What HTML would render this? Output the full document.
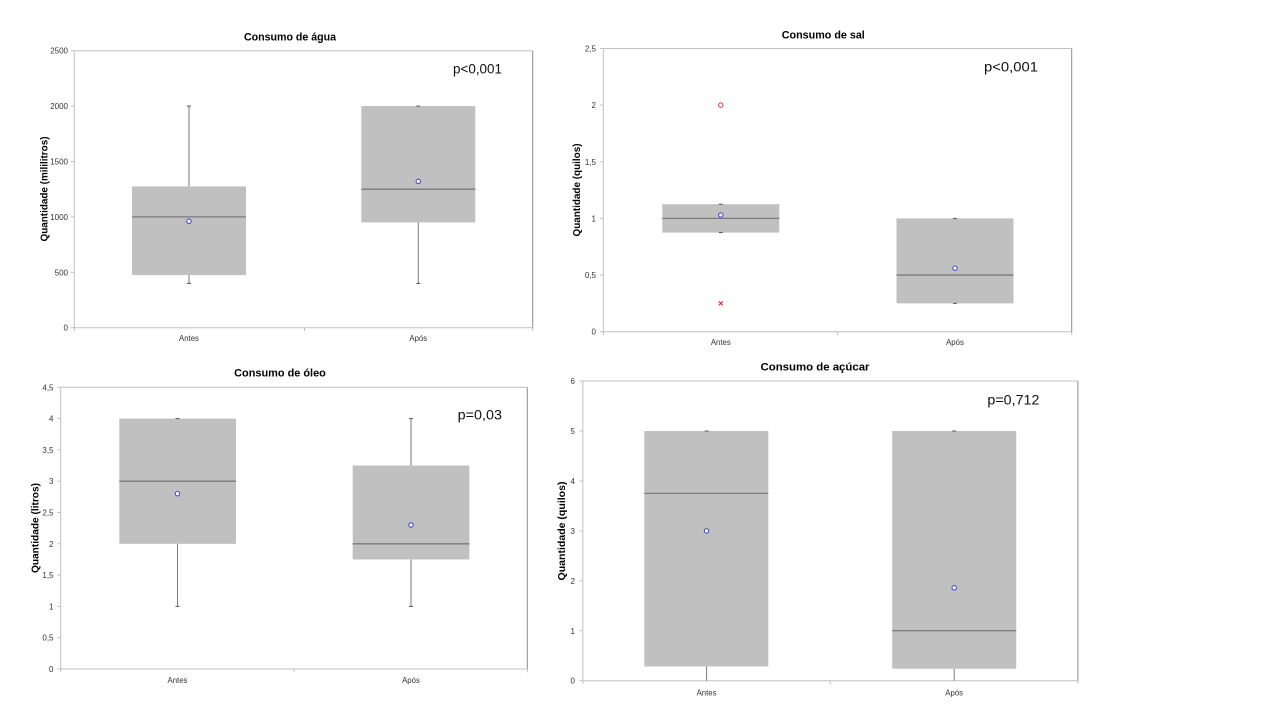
<!DOCTYPE html>
<html>
<head>
<meta charset="utf-8">
<style>
  html, body { margin: 0; padding: 0; background: #ffffff; }
  svg { display: block; }
  text { font-family: "Liberation Sans", "DejaVu Sans", sans-serif; }
  .tick { font-size: 8px; fill: #333333; text-anchor: end; }
  .xl { font-size: 7.8px; fill: #333333; text-anchor: middle; }
  .title { font-size: 10.6px; font-weight: bold; fill: #000000; text-anchor: middle; }
  .ylab { font-size: 10px; font-weight: bold; fill: #000000; text-anchor: middle; }
  .pv { font-size: 13.5px; fill: #111111; }
  .ax { stroke: #c0c0c0; stroke-width: 1; fill: none; }
  .rb { stroke: #8c8c8c; stroke-width: 1; fill: none; }
  .box { fill: #c0c0c0; stroke: none; }
  .med { stroke: #7a7a7a; stroke-width: 1.3; }
  .wh { stroke: #7a7a7a; stroke-width: 1; }
  .cap { stroke: #555555; stroke-width: 1; }
  .mean { fill: #ffffff; stroke: #4a4ad8; stroke-width: 1.1; }
</style>
</head>
<body>
<svg width="1280" height="720" viewBox="0 0 1280 720" xmlns="http://www.w3.org/2000/svg">
  <rect x="0" y="0" width="1280" height="720" fill="#ffffff"/>

  <!-- ================= Chart 1: Consumo de água ================= -->
  <text class="title" x="290" y="40.5" textLength="92" lengthAdjust="spacingAndGlyphs">Consumo de água</text>
  <line class="ax" x1="74.3" y1="50.7" x2="532.7" y2="50.7"/>
  <line class="rb" x1="532.7" y1="50.7" x2="532.7" y2="327.7"/>
  <line class="ax" x1="74.3" y1="50.7" x2="74.3" y2="327.7"/>
  <line class="ax" x1="74.3" y1="327.7" x2="532.7" y2="327.7"/>
  <!-- y ticks -->
  <g class="ax">
    <line x1="71" y1="50.7" x2="74.3" y2="50.7"/>
    <line x1="71" y1="106.1" x2="74.3" y2="106.1"/>
    <line x1="71" y1="161.5" x2="74.3" y2="161.5"/>
    <line x1="71" y1="216.9" x2="74.3" y2="216.9"/>
    <line x1="71" y1="272.3" x2="74.3" y2="272.3"/>
    <line x1="71" y1="327.7" x2="74.3" y2="327.7"/>
    <line x1="304.5" y1="327.7" x2="304.5" y2="331"/>
    <line x1="74.3" y1="327.7" x2="74.3" y2="331"/>
    <line x1="532.7" y1="327.7" x2="532.7" y2="331"/>
  </g>
  <text class="tick" x="68" y="53.7">2500</text>
  <text class="tick" x="68" y="109.1">2000</text>
  <text class="tick" x="68" y="164.5">1500</text>
  <text class="tick" x="68" y="219.9">1000</text>
  <text class="tick" x="68" y="275.3">500</text>
  <text class="tick" x="68" y="330.7">0</text>
  <text class="ylab" transform="translate(47.7,189) rotate(-90)" x="0" y="0" textLength="105" lengthAdjust="spacingAndGlyphs">Quantidade (mililitros)</text>
  <!-- Antes -->
  <line class="wh" x1="189" y1="106.1" x2="189" y2="186.4"/>
  <line class="wh" x1="189" y1="275.1" x2="189" y2="283.4"/>
  <line class="cap" x1="187" y1="106.1" x2="191" y2="106.1"/>
  <line class="cap" x1="187" y1="283.4" x2="191" y2="283.4"/>
  <rect class="box" x="132" y="186.4" width="114" height="88.7"/>
  <line class="med" x1="132" y1="216.9" x2="246" y2="216.9"/>
  <circle class="mean" cx="189" cy="221.3" r="2.2"/>
  <!-- Após -->
  <line class="wh" x1="418.3" y1="222.4" x2="418.3" y2="283.4"/>
  <line class="cap" x1="416.3" y1="283.4" x2="420.3" y2="283.4"/>
  <rect class="box" x="361.3" y="106.1" width="114" height="116.3"/>
  <line class="cap" x1="416.3" y1="106.1" x2="420.3" y2="106.1"/>
  <line class="med" x1="361.3" y1="189.2" x2="475.3" y2="189.2"/>
  <circle class="mean" cx="418.3" cy="181.4" r="2.2"/>
  <text class="xl" x="189" y="341">Antes</text>
  <text class="xl" x="418.3" y="341">Após</text>
  <text class="pv" x="453" y="73.3" textLength="49" lengthAdjust="spacingAndGlyphs">p&lt;0,001</text>

  <!-- ================= Chart 2: Consumo de sal ================= -->
  <text class="title" x="823.3" y="38.5" textLength="83" lengthAdjust="spacingAndGlyphs">Consumo de sal</text>
  <line class="ax" x1="603.3" y1="48.5" x2="1071.7" y2="48.5"/>
  <line class="rb" x1="1071.7" y1="48.5" x2="1071.7" y2="331.7"/>
  <line class="ax" x1="603.3" y1="48.5" x2="603.3" y2="331.7"/>
  <line class="ax" x1="603.3" y1="331.7" x2="1071.7" y2="331.7"/>
  <g class="ax">
    <line x1="600" y1="48.45" x2="603.3" y2="48.45"/>
    <line x1="600" y1="105.1" x2="603.3" y2="105.1"/>
    <line x1="600" y1="161.75" x2="603.3" y2="161.75"/>
    <line x1="600" y1="218.4" x2="603.3" y2="218.4"/>
    <line x1="600" y1="275.05" x2="603.3" y2="275.05"/>
    <line x1="600" y1="331.7" x2="603.3" y2="331.7"/>
    <line x1="837.5" y1="331.7" x2="837.5" y2="335"/>
    <line x1="603.3" y1="331.7" x2="603.3" y2="335"/>
    <line x1="1071.7" y1="331.7" x2="1071.7" y2="335"/>
  </g>
  <text class="tick" x="596" y="51.45">2,5</text>
  <text class="tick" x="596" y="108.1">2</text>
  <text class="tick" x="596" y="164.75">1,5</text>
  <text class="tick" x="596" y="221.4">1</text>
  <text class="tick" x="596" y="278.05">0,5</text>
  <text class="tick" x="596" y="334.7">0</text>
  <text class="ylab" transform="translate(580,190) rotate(-90)" x="0" y="0" textLength="93" lengthAdjust="spacingAndGlyphs">Quantidade (quilos)</text>
  <!-- Antes -->
  <rect class="box" x="662.3" y="204.2" width="117" height="28.4"/>
  <line class="cap" x1="718.8" y1="204.2" x2="722.8" y2="204.2"/>
  <line class="cap" x1="718.8" y1="232.6" x2="722.8" y2="232.6"/>
  <line class="med" x1="662.3" y1="218.4" x2="779.3" y2="218.4"/>
  <circle class="mean" cx="720.8" cy="215" r="2.2"/>
  <circle cx="720.8" cy="105.1" r="2.2" fill="#ffffff" stroke="#e03030" stroke-width="1"/>
  <g stroke="#e02020" stroke-width="1.1">
    <line x1="718.8" y1="301.4" x2="722.8" y2="305.4"/>
    <line x1="722.8" y1="301.4" x2="718.8" y2="305.4"/>
  </g>
  <!-- Após -->
  <rect class="box" x="896.5" y="218.4" width="117" height="85"/>
  <line class="cap" x1="953" y1="218.4" x2="957" y2="218.4"/>
  <line class="cap" x1="953" y1="303.4" x2="957" y2="303.4"/>
  <line class="med" x1="896.5" y1="275.05" x2="1013.5" y2="275.05"/>
  <circle class="mean" cx="955" cy="268.2" r="2.2"/>
  <text class="xl" x="720.8" y="345">Antes</text>
  <text class="xl" x="955" y="345">Após</text>
  <text class="pv" x="984" y="71.7" textLength="54" lengthAdjust="spacingAndGlyphs">p&lt;0,001</text>

  <!-- ================= Chart 3: Consumo de óleo ================= -->
  <text class="title" x="280" y="376.5" textLength="91.7" lengthAdjust="spacingAndGlyphs">Consumo de óleo</text>
  <line class="ax" x1="60.7" y1="387.3" x2="527.3" y2="387.3"/>
  <line class="rb" x1="527.3" y1="387.3" x2="527.3" y2="669"/>
  <line class="ax" x1="60.7" y1="387.3" x2="60.7" y2="669"/>
  <line class="ax" x1="60.7" y1="669" x2="527.3" y2="669"/>
  <g class="ax">
    <line x1="57.4" y1="387.3" x2="60.7" y2="387.3"/>
    <line x1="57.4" y1="418.6" x2="60.7" y2="418.6"/>
    <line x1="57.4" y1="449.9" x2="60.7" y2="449.9"/>
    <line x1="57.4" y1="481.2" x2="60.7" y2="481.2"/>
    <line x1="57.4" y1="512.5" x2="60.7" y2="512.5"/>
    <line x1="57.4" y1="543.8" x2="60.7" y2="543.8"/>
    <line x1="57.4" y1="575.1" x2="60.7" y2="575.1"/>
    <line x1="57.4" y1="606.4" x2="60.7" y2="606.4"/>
    <line x1="57.4" y1="637.7" x2="60.7" y2="637.7"/>
    <line x1="57.4" y1="669" x2="60.7" y2="669"/>
    <line x1="294" y1="669" x2="294" y2="672.3"/>
    <line x1="60.7" y1="669" x2="60.7" y2="672.3"/>
    <line x1="527.3" y1="669" x2="527.3" y2="672.3"/>
  </g>
  <text class="tick" x="53.5" y="390.3">4,5</text>
  <text class="tick" x="53.5" y="421.6">4</text>
  <text class="tick" x="53.5" y="452.9">3,5</text>
  <text class="tick" x="53.5" y="484.2">3</text>
  <text class="tick" x="53.5" y="515.5">2,5</text>
  <text class="tick" x="53.5" y="546.8">2</text>
  <text class="tick" x="53.5" y="578.1">1,5</text>
  <text class="tick" x="53.5" y="609.4">1</text>
  <text class="tick" x="53.5" y="640.7">0,5</text>
  <text class="tick" x="53.5" y="672">0</text>
  <text class="ylab" transform="translate(38.6,528) rotate(-90)" x="0" y="0" textLength="90" lengthAdjust="spacingAndGlyphs">Quantidade (litros)</text>
  <!-- Antes -->
  <line class="wh" x1="177.5" y1="543.8" x2="177.5" y2="606.4"/>
  <line class="cap" x1="175.5" y1="606.4" x2="179.5" y2="606.4"/>
  <rect class="box" x="119.3" y="418.6" width="116.7" height="125.2"/>
  <line class="cap" x1="175.5" y1="418.6" x2="179.5" y2="418.6"/>
  <line class="med" x1="119.3" y1="481.2" x2="236" y2="481.2"/>
  <circle class="mean" cx="177.5" cy="493.7" r="2.2"/>
  <!-- Após -->
  <line class="wh" x1="411" y1="418.6" x2="411" y2="465.55"/>
  <line class="wh" x1="411" y1="559.45" x2="411" y2="606.4"/>
  <line class="cap" x1="409" y1="418.6" x2="413" y2="418.6"/>
  <line class="cap" x1="409" y1="606.4" x2="413" y2="606.4"/>
  <rect class="box" x="352.7" y="465.55" width="116.7" height="93.9"/>
  <line class="med" x1="352.7" y1="543.8" x2="469.4" y2="543.8"/>
  <circle class="mean" cx="411" cy="525" r="2.2"/>
  <text class="xl" x="177.5" y="683">Antes</text>
  <text class="xl" x="411" y="683">Após</text>
  <text class="pv" x="457.7" y="419.5" textLength="44.3" lengthAdjust="spacingAndGlyphs">p=0,03</text>

  <!-- ================= Chart 4: Consumo de açúcar ================= -->
  <text class="title" x="815" y="370.5" textLength="109" lengthAdjust="spacingAndGlyphs">Consumo de açúcar</text>
  <line class="ax" x1="582.8" y1="381" x2="1077.9" y2="381"/>
  <line class="rb" x1="1077.9" y1="381" x2="1077.9" y2="680.7"/>
  <line class="ax" x1="582.8" y1="381" x2="582.8" y2="680.7"/>
  <line class="ax" x1="582.8" y1="680.7" x2="1077.9" y2="680.7"/>
  <g class="ax">
    <line x1="579.5" y1="381" x2="582.8" y2="381"/>
    <line x1="579.5" y1="431" x2="582.8" y2="431"/>
    <line x1="579.5" y1="480.9" x2="582.8" y2="480.9"/>
    <line x1="579.5" y1="530.85" x2="582.8" y2="530.85"/>
    <line x1="579.5" y1="580.8" x2="582.8" y2="580.8"/>
    <line x1="579.5" y1="630.75" x2="582.8" y2="630.75"/>
    <line x1="579.5" y1="680.7" x2="582.8" y2="680.7"/>
    <line x1="830.3" y1="680.7" x2="830.3" y2="684"/>
    <line x1="582.8" y1="680.7" x2="582.8" y2="684"/>
    <line x1="1077.9" y1="680.7" x2="1077.9" y2="684"/>
  </g>
  <text class="tick" x="575" y="384">6</text>
  <text class="tick" x="575" y="434">5</text>
  <text class="tick" x="575" y="483.9">4</text>
  <text class="tick" x="575" y="533.85">3</text>
  <text class="tick" x="575" y="583.8">2</text>
  <text class="tick" x="575" y="633.75">1</text>
  <text class="tick" x="575" y="683.7">0</text>
  <text class="ylab" style="font-size:10.5px" transform="translate(564.8,531) rotate(-90)" x="0" y="0" textLength="99" lengthAdjust="spacingAndGlyphs">Quantidade (quilos)</text>
  <!-- Antes -->
  <line class="wh" x1="706.6" y1="666.5" x2="706.6" y2="680.7"/>
  <rect class="box" x="644.3" y="431" width="124" height="235.5"/>
  <line class="cap" x1="704.6" y1="431" x2="708.6" y2="431"/>
  <line class="med" x1="644.3" y1="493.4" x2="768.3" y2="493.4"/>
  <circle class="mean" cx="706.6" cy="530.85" r="2.2"/>
  <!-- Após -->
  <line class="wh" x1="954.2" y1="668.7" x2="954.2" y2="680.7"/>
  <rect class="box" x="892.2" y="431" width="124" height="237.7"/>
  <line class="cap" x1="952.2" y1="431" x2="956.2" y2="431"/>
  <line class="med" x1="892.2" y1="630.75" x2="1016.2" y2="630.75"/>
  <circle class="mean" cx="954.2" cy="587.8" r="2.2"/>
  <text class="xl" x="706.6" y="695.5">Antes</text>
  <text class="xl" x="954.2" y="695.5">Após</text>
  <text class="pv" x="987.4" y="404.5" textLength="52" lengthAdjust="spacingAndGlyphs">p=0,712</text>
</svg>
</body>
</html>
